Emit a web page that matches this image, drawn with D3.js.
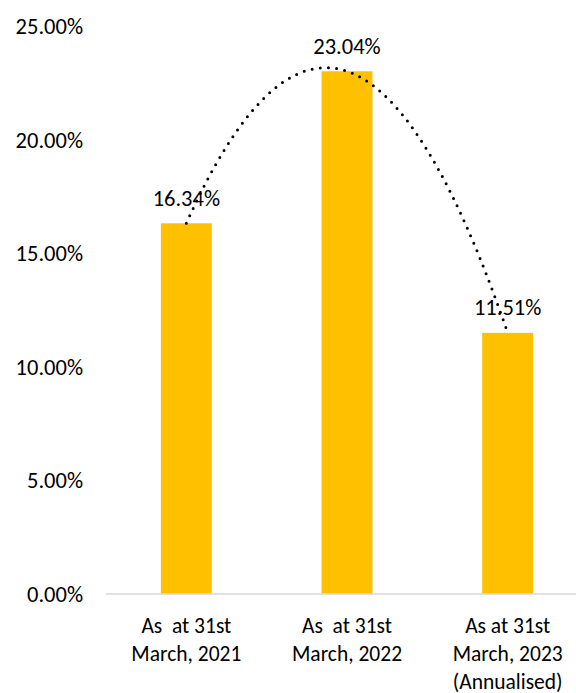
<!DOCTYPE html>
<html>
<head>
<meta charset="utf-8">
<script src="https://cdn.jsdelivr.net/npm/d3@7"></script>
<style>
  html, body { margin: 0; padding: 0; background: #fff; }
  svg { display: block; }
  text { font-family: Carlito, Calibri, Lato, sans-serif; fill: #000; }
</style>
</head>
<body>
<svg id="chart" width="576" height="693"></svg>
<script>
// Category labels (one array entry per line of the label)
const categories = [
  ["As  at 31st", "March, 2021"],
  ["As  at 31st", "March, 2022"],
  ["As at 31st", "March, 2023", "(Annualised)"]
];
// Ratio values, in percent
const values = [16.34, 23.04, 11.51];
// Y-axis ticks
const yTicks = [0, 5, 10, 15, 20, 25];

const svg = d3.select("#chart");
const plotLeft = 106, plotRight = 588, plotTop = 26.8, plotBottom = 594;

const keys = categories.map((c, i) => i);
const x = d3.scaleBand().domain(keys).range([plotLeft, plotRight])
  .paddingInner(0.683).paddingOuter(0.3415);
const y = d3.scaleLinear().domain([0, 25]).range([plotBottom, plotTop]);

const fmt = v => v.toFixed(2) + "%";

// Y tick labels (no axis line, no gridlines)
svg.append("g").selectAll("text").data(yTicks).join("text")
  .attr("x", 83)
  .attr("y", d => y(d))
  .attr("text-anchor", "end")
  .attr("dominant-baseline", "central")
  .style("font-size", "22.5px")
  .text(fmt);

// Bars
svg.append("g").selectAll("rect").data(values).join("rect")
  .attr("x", (d, i) => x(i))
  .attr("width", x.bandwidth())
  .attr("y", d => y(d))
  .attr("height", d => y(0) - y(d))
  .attr("fill", "#FFC000");

// Category axis baseline
svg.append("line")
  .attr("x1", plotLeft).attr("x2", plotRight)
  .attr("y1", y(0)).attr("y2", y(0))
  .attr("stroke", "#d9d9d9").attr("stroke-width", 1.5);

// Category labels
const catG = svg.append("g").selectAll("text").data(categories).join("text")
  .attr("text-anchor", "middle")
  .style("font-size", "21.5px")
  .style("white-space", "pre")
  .attr("transform", (d, i) => `translate(${x(i) + x.bandwidth() / 2},0)`);
catG.selectAll("tspan").data(d => d).join("tspan")
  .attr("x", 0)
  .attr("y", (d, j) => 625.5 + j * 28)
  .attr("dominant-baseline", "central")
  .text(d => d);

// Data labels
svg.append("g").selectAll("text").data(values).join("text")
  .attr("x", (d, i) => x(i) + x.bandwidth() / 2)
  .attr("y", d => y(d) - 25)
  .attr("text-anchor", "middle")
  .attr("dominant-baseline", "central")
  .style("font-size", "22.5px")
  .text(fmt);

// Polynomial (order 2) trendline fitted to the three values
const n = values.length;
const xs = values.map((v, i) => i + 1);
// Solve normal equations for y = a*x^2 + b*x + c
function fitQuadratic(xv, yv) {
  const S = k => d3.sum(xv, t => Math.pow(t, k));
  const T = k => d3.sum(xv, (t, i) => Math.pow(t, k) * yv[i]);
  const A = [[S(4), S(3), S(2)], [S(3), S(2), S(1)], [S(2), S(1), xv.length]];
  const B = [T(2), T(1), T(0)];
  for (let i = 0; i < 3; i++) {
    for (let r = i + 1; r < 3; r++) {
      const f = A[r][i] / A[i][i];
      for (let c = i; c < 3; c++) A[r][c] -= f * A[i][c];
      B[r] -= f * B[i];
    }
  }
  const sol = [0, 0, 0];
  for (let i = 2; i >= 0; i--) {
    let s = B[i];
    for (let c = i + 1; c < 3; c++) s -= A[i][c] * sol[c];
    sol[i] = s / A[i][i];
  }
  return sol;
}
const [qa, qb, qc] = fitQuadratic(xs, values);
const step = x.step();
const xPos = t => x(0) + x.bandwidth() / 2 + (t - 1) * step;
const trend = d3.range(1, n + 0.0001, 0.02).map(t => [xPos(t), y(qa * t * t + qb * t + qc)]);

svg.append("path")
  .datum(trend)
  .attr("d", d3.line())
  .attr("fill", "none")
  .attr("stroke", "#000")
  .attr("stroke-width", 3)
  .attr("stroke-linecap", "round")
  .attr("stroke-dasharray", "0 8.2");
</script>
</body>
</html>
